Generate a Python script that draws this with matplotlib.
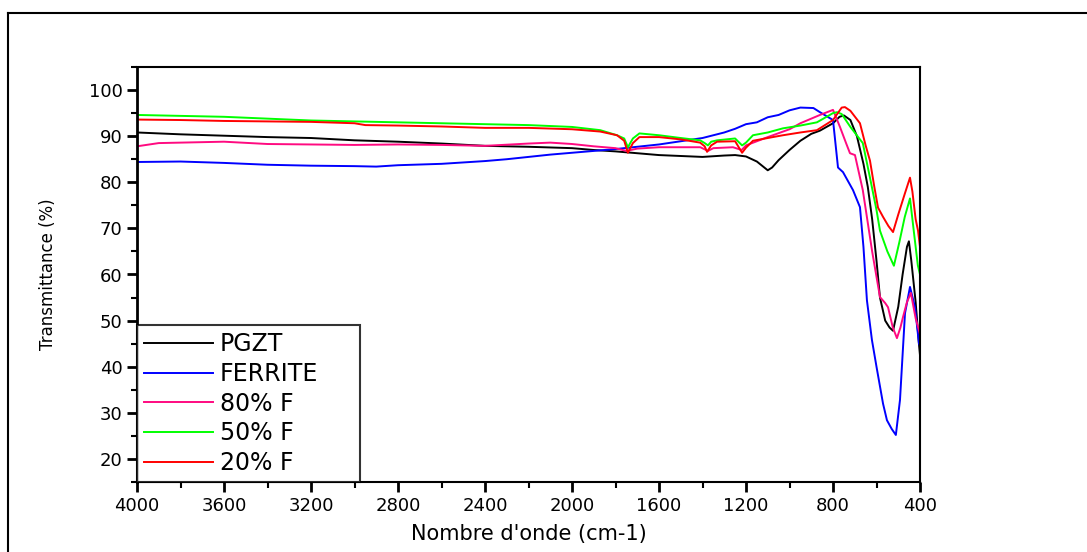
import numpy as np
import matplotlib.pyplot as plt
from matplotlib.lines import Line2D
from matplotlib.ticker import MultipleLocator

plt.rcParams['font.family'] = ['DejaVu Sans']

# wavenumber (cm-1) / transmittance (%)
pgzt_wn = [4000, 3800, 3600, 3400, 3200, 3000, 2800, 2600, 2400, 2200, 2000, 1900, 1800,
           1700, 1600, 1500, 1400, 1300, 1250, 1200, 1150, 1100, 1080, 1050, 1000, 950,
           900, 860, 800, 770, 750, 720, 690, 660, 640, 620, 600, 584, 560, 540, 524,
           500, 480, 460, 451, 440, 420, 405, 400]
pgzt_t = [90.8, 90.4, 90.1, 89.8, 89.6, 89.1, 88.8, 88.4, 87.9, 87.7, 87.4, 87.0, 86.7,
          86.3, 85.9, 85.7, 85.5, 85.8, 85.9, 85.6, 84.5, 82.6, 83.2, 84.8, 87.0, 89.0,
          90.5, 91.2, 92.8, 94.2, 94.5, 93.5, 90.0, 84.0, 79.0, 72.0, 63.0, 55.0, 50.0,
          48.5, 47.8, 53.0, 60.0, 66.0, 67.2, 63.0, 54.0, 45.0, 42.5]

ferrite_wn = [4000, 3800, 3600, 3400, 3200, 3000, 2900, 2800, 2600, 2500, 2400, 2300, 2200,
              2100, 2000, 1900, 1800, 1700, 1600, 1500, 1400, 1300, 1250, 1200, 1150, 1100,
              1050, 1000, 950, 890, 860, 800, 777, 754, 708, 676, 660, 644, 621, 600, 570,
              552, 530, 511, 492, 469, 446, 423, 405, 400]
ferrite_t = [84.4, 84.5, 84.2, 83.8, 83.6, 83.5, 83.4, 83.7, 84.0, 84.3, 84.6, 85.0, 85.5,
             86.0, 86.4, 86.8, 87.2, 87.7, 88.2, 88.9, 89.6, 90.8, 91.6, 92.6, 93.0, 94.1,
             94.6, 95.6, 96.2, 96.1, 95.2, 93.5, 83.2, 82.2, 78.3, 74.6, 66.0, 54.4, 45.8,
             40.0, 32.0, 28.4, 26.5, 25.2, 32.8, 51.6, 57.3, 52.9, 45.1, 44.5]

f80_wn = [4000, 3900, 3800, 3700, 3600, 3400, 3200, 3000, 2800, 2600, 2400, 2200, 2100,
          2000, 1900, 1800, 1750, 1700, 1600, 1500, 1410, 1375, 1350, 1260, 1220, 1200,
          1100, 1000, 950, 860, 800, 768, 740, 722, 699, 663, 620, 584, 560, 547, 525,
          506, 490, 478, 460, 442, 420, 405, 400]
f80_t = [87.8, 88.5, 88.6, 88.7, 88.8, 88.3, 88.2, 88.1, 88.2, 88.1, 87.9, 88.4, 88.6,
         88.3, 87.8, 87.4, 86.8, 87.3, 87.6, 87.6, 87.6, 86.8, 87.4, 87.6, 87.0, 88.0,
         89.8, 91.5, 92.8, 94.6, 95.7, 92.0, 88.5, 86.3, 85.9, 78.3, 65.0, 55.1, 53.8,
         52.9, 48.5, 46.2, 48.5, 50.8, 54.0, 56.0, 50.5, 47.9, 47.0]

f50_wn = [4000, 3900, 3800, 3600, 3400, 3200, 3000, 2800, 2600, 2400, 2200, 2000, 1870,
          1793, 1760, 1743, 1720, 1690, 1600, 1500, 1411, 1390, 1375, 1360, 1333, 1250,
          1218, 1200, 1168, 1100, 1030, 950, 874, 800, 782, 760, 720, 663, 630, 600, 584,
          550, 520, 495, 470, 446, 430, 410, 400]
f50_t = [94.6, 94.5, 94.4, 94.2, 93.8, 93.4, 93.2, 93.0, 92.8, 92.6, 92.4, 92.0, 91.3,
         90.2, 89.5, 87.6, 89.5, 90.6, 90.2, 89.6, 89.1, 88.5, 88.0, 88.8, 89.1, 89.5,
         88.0, 88.6, 90.2, 90.8, 91.7, 92.3, 93.0, 95.0, 95.2, 94.8, 92.0, 88.5, 81.0,
         74.0, 69.5, 65.0, 61.9, 67.0, 72.5, 76.5, 70.0, 62.0, 60.0]

f20_wn = [4000, 3800, 3600, 3400, 3200, 3000, 2950, 2800, 2600, 2400, 2200, 2000, 1870,
          1793, 1760, 1743, 1720, 1690, 1600, 1500, 1411, 1390, 1379, 1360, 1333, 1250,
          1218, 1200, 1168, 1100, 1030, 950, 874, 800, 760, 745, 720, 676, 650, 630, 610,
          593, 570, 545, 524, 500, 470, 446, 435, 420, 409, 400]
f20_t = [93.6, 93.5, 93.3, 93.2, 93.1, 92.8, 92.4, 92.3, 92.1, 91.8, 91.8, 91.5, 91.0,
         90.2, 89.0, 86.4, 88.5, 89.8, 89.8, 89.3, 88.6, 87.8, 86.6, 88.0, 88.8, 88.9,
         86.4, 87.5, 89.0, 89.6, 90.2, 90.8, 91.3, 93.5, 96.2, 96.3, 95.5, 92.8, 88.0,
         84.7, 79.0, 74.5, 72.5, 70.5, 69.2, 73.0, 77.5, 81.0, 78.0, 72.0, 69.5, 66.0]

labels = ['PGZT', 'FERRITE', '80% F', '50% F', '20% F']
colors = ['#000000', '#0000ff', '#ff0a80', '#00ff00', '#ff0000']

fig = plt.figure(figsize=(10.87, 5.52), dpi=100)
ax = fig.add_axes([137 / 1087, 1 - 482 / 552, (920 - 137) / 1087, (482 - 67) / 552])

series = [(pgzt_wn, pgzt_t), (ferrite_wn, ferrite_t), (f80_wn, f80_t),
          (f50_wn, f50_t), (f20_wn, f20_t)]
for (x, y), lab, c in zip(series, labels, colors):
    ax.plot(x, y, color=c, lw=1.4, label=lab)

ax.set_xlim(4000, 400)
ax.set_ylim(15, 105)
ax.xaxis.set_major_locator(MultipleLocator(400))
ax.xaxis.set_minor_locator(MultipleLocator(200))
ax.yaxis.set_major_locator(MultipleLocator(10))
ax.yaxis.set_minor_locator(MultipleLocator(5))
ax.set_yticks(range(20, 101, 10))
ax.tick_params(which='major', direction='out', length=7, width=2, labelsize=13)
ax.tick_params(which='minor', direction='out', length=4, width=1.5)
ax.tick_params(top=False, right=False, which='both')
for s in ax.spines.values():
    s.set_linewidth(1.5)
ax.spines['left'].set_linewidth(2)

ax.set_xlabel("Nombre d'onde (cm-1)", fontsize=15, labelpad=7)
ax.set_ylabel('Transmittance (%)', fontsize=12, labelpad=23)

# legend box spans x 137..360 px in the reference
leg = ax.legend(loc='lower left', bbox_to_anchor=(0, 0, (360 - 137) / (920 - 137), 0.3),
                mode='expand', borderaxespad=0, fontsize=17, frameon=True,
                fancybox=False, handlelength=2.9, labelspacing=0.24,
                borderpad=0.3, handletextpad=0.3)
leg.get_frame().set_edgecolor('black')
leg.get_frame().set_linewidth(1.5)

# outer frame (only top and left visible)
fig.add_artist(Line2D([8 / 1087, 8 / 1087], [0, 1 - 13 / 552], color='black', lw=1.5))
fig.add_artist(Line2D([8 / 1087, 1], [1 - 13 / 552, 1 - 13 / 552], color='black', lw=1.5))

fig.savefig('out.png', dpi=100)
